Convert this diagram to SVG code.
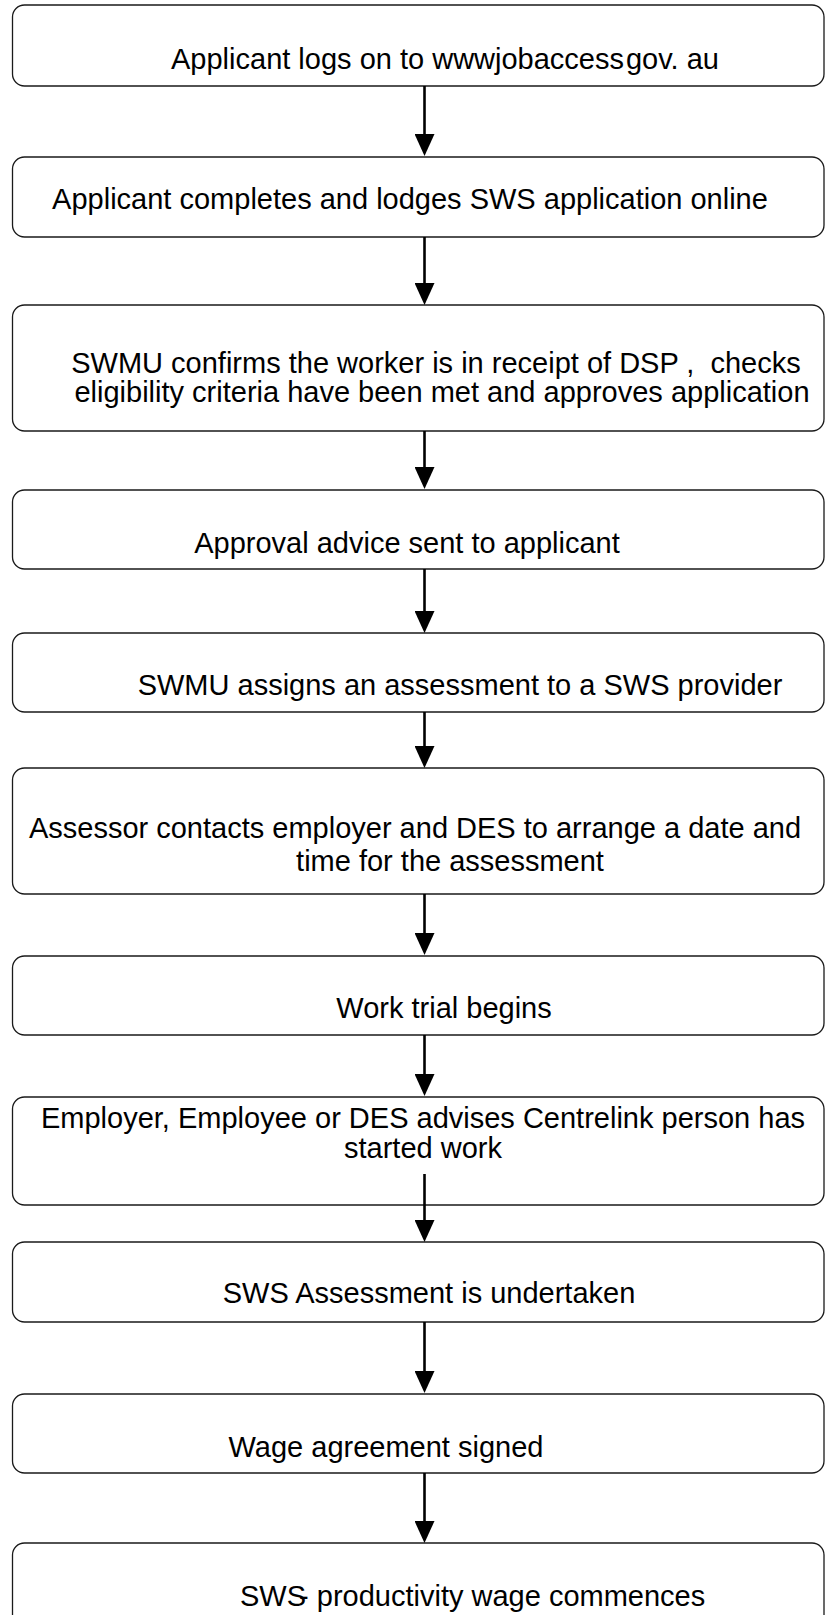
<svg xmlns="http://www.w3.org/2000/svg" width="827" height="1615" viewBox="0 0 827 1615">
  <style>
    .box { fill: #ffffff; stroke: #1a1a1a; stroke-width: 1.3; }
    .lbl { font-family: "Liberation Sans", Arial, sans-serif; font-size: 29px; fill: #000000; text-anchor: middle; white-space: pre; }
    .flow { stroke: #000000; stroke-width: 2.6; fill: none; marker-end: url(#head); }
  </style>
  <defs>
    <marker id="head" viewBox="0 0 22 20" refX="0" refY="10" markerWidth="22" markerHeight="20" markerUnits="userSpaceOnUse" orient="auto">
      <path d="M0,0 L22,10 L0,20 z" fill="#000000"/>
    </marker>
  </defs>
  <rect x="0" y="0" width="827" height="1615" fill="#ffffff"/>

  <g id="step1">
    <rect class="box" x="12.5" y="5" width="811.5" height="81" rx="12"/>
    <text class="lbl" x="445" y="69">Applicant logs on to wwwjobaccess<tspan dx="2">gov. au</tspan></text>
  </g>
  <g id="step2">
    <rect class="box" x="12.5" y="157" width="811.5" height="80" rx="12"/>
    <text class="lbl" x="410" y="209">Applicant completes and lodges SWS application online</text>
  </g>
  <g id="step3">
    <rect class="box" x="12.5" y="305" width="811.5" height="126" rx="12"/>
    <text class="lbl" x="436" y="373">SWMU confirms the worker is in receipt of DSP ,  checks</text>
    <text class="lbl" x="442" y="402">eligibility criteria have been met and approves application</text>
  </g>
  <g id="step4">
    <rect class="box" x="12.5" y="490" width="811.5" height="79" rx="12"/>
    <text class="lbl" x="407" y="553">Approval advice sent to applicant</text>
  </g>
  <g id="step5">
    <rect class="box" x="12.5" y="633" width="811.5" height="79" rx="12"/>
    <text class="lbl" x="460" y="695">SWMU assigns an assessment to a SWS provider</text>
  </g>
  <g id="step6">
    <rect class="box" x="12.5" y="768" width="811.5" height="126" rx="12"/>
    <text class="lbl" x="415" y="838">Assessor contacts employer and DES to arrange a date and</text>
    <text class="lbl" x="450" y="871">time for the assessment</text>
  </g>
  <g id="step7">
    <rect class="box" x="12.5" y="956" width="811.5" height="79" rx="12"/>
    <text class="lbl" x="444" y="1018">Work trial begins</text>
  </g>
  <g id="step8">
    <rect class="box" x="12.5" y="1097" width="811.5" height="108" rx="12"/>
    <text class="lbl" x="423" y="1128">Employer, Employee or DES advises Centrelink person has</text>
    <text class="lbl" x="423" y="1158">started work</text>
  </g>
  <g id="step9">
    <rect class="box" x="12.5" y="1242" width="811.5" height="80" rx="12"/>
    <text class="lbl" x="429" y="1303">SWS Assessment is undertaken</text>
  </g>
  <g id="step10">
    <rect class="box" x="12.5" y="1394" width="811.5" height="79" rx="12"/>
    <text class="lbl" x="386" y="1457">Wage agreement signed</text>
  </g>
  <g id="step11">
    <rect class="box" x="12.5" y="1543" width="811.5" height="100" rx="12"/>
    <!-- hyphen tucked under the last S, as typeset -->
    <text class="lbl" x="240" y="1606" dx="0 0 0 -7" style="text-anchor:start">SWS- productivity wage commences</text>
  </g>

  <g id="connectors">
    <line class="flow" x1="424.5" y1="86" x2="424.5" y2="134"/>
    <line class="flow" x1="424.5" y1="237" x2="424.5" y2="283"/>
    <line class="flow" x1="424.5" y1="431" x2="424.5" y2="467"/>
    <line class="flow" x1="424.5" y1="569" x2="424.5" y2="611"/>
    <line class="flow" x1="424.5" y1="712" x2="424.5" y2="746"/>
    <line class="flow" x1="424.5" y1="894" x2="424.5" y2="933"/>
    <line class="flow" x1="424.5" y1="1035" x2="424.5" y2="1074"/>
    <line class="flow" x1="424.5" y1="1174" x2="424.5" y2="1220"/>
    <line class="flow" x1="424.5" y1="1322" x2="424.5" y2="1371"/>
    <line class="flow" x1="424.5" y1="1473" x2="424.5" y2="1521"/>
  </g>
</svg>
